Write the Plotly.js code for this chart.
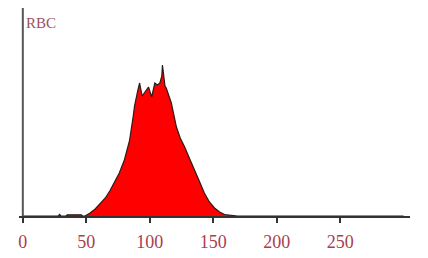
<!DOCTYPE html>
<html><head><meta charset="utf-8">
<script src="https://cdn.plot.ly/plotly-3.0.1.min.js"></script>
<style>html,body{margin:0;padding:0;background:#fff}#c{width:428px;height:258px}</style>
</head><body><div id="c"></div>
<script>
// RBC volume histogram (fL)
const cellVolume = [0, 28, 29, 30, 34, 35, 46, 47, 49, 53, 57, 61, 65, 68.5, 72, 76, 80, 84, 87, 88, 90.5, 92, 94, 96, 99, 101.5, 104, 106, 108, 109.5, 110, 112, 113, 117, 121, 124, 127.5, 131.5, 135.5, 139, 143, 147, 151, 155, 159, 164.5, 169, 300];
const cellCount  = [0, 0, 1.5, 0, 0, 1.2, 1.2, 0, 0, 3, 7, 13, 18, 25, 33, 43, 56, 75, 100, 110, 125, 133, 120, 124, 129, 119, 133, 131, 133, 140, 151, 130, 128, 113, 89, 78, 69, 57, 46, 35, 23, 14, 8, 4, 1.5, 0.5, 0, 0];
const tickValues = [0, 50, 100, 150, 200, 250];
const tickLabels = ["0", "50", "100", "150", "200", "250"];
const channelLabel = "RBC";

const labelColor = "#a8404e";

Plotly.newPlot("c", [{
  type: "scatter", mode: "lines",
  x: cellVolume, y: cellCount,
  fill: "tozeroy", fillcolor: "#ff0000",
  line: {color: "#2a1a1a", width: 1.2, shape: "linear"},
  hoverinfo: "skip"
}], {
  width: 428, height: 258,
  margin: {l: 19, r: 18, t: 8, b: 42},
  paper_bgcolor: "#ffffff", plot_bgcolor: "#ffffff",
  showlegend: false,
  xaxis: {
    range: [-3, 305], showgrid: false, zeroline: false,
    showline: true, linecolor: "#333333", linewidth: 2,
    ticks: "outside", ticklen: 5, tickwidth: 2, tickcolor: "#333333",
    tickvals: tickValues, ticktext: tickLabels,
    ticklabelstandoff: 3,
    tickfont: {family: "Liberation Serif", size: 18, color: labelColor}
  },
  yaxis: {
    range: [0, 208], showgrid: false, zeroline: false,
    showline: false, showticklabels: false, ticks: ""
  },
  shapes: [{
    type: "line", xref: "x", yref: "y", x0: 0, x1: 0, y0: 0, y1: 208,
    line: {color: "#555555", width: 2}
  }],
  annotations: [{
    text: channelLabel, xref: "paper", yref: "paper",
    x: 0.013, y: 0.93, xanchor: "left", yanchor: "middle", showarrow: false,
    font: {family: "Liberation Serif", size: 15, color: "#9a5060"}
  }]
}, {staticPlot: true, displayModeBar: false});
</script></body></html>
